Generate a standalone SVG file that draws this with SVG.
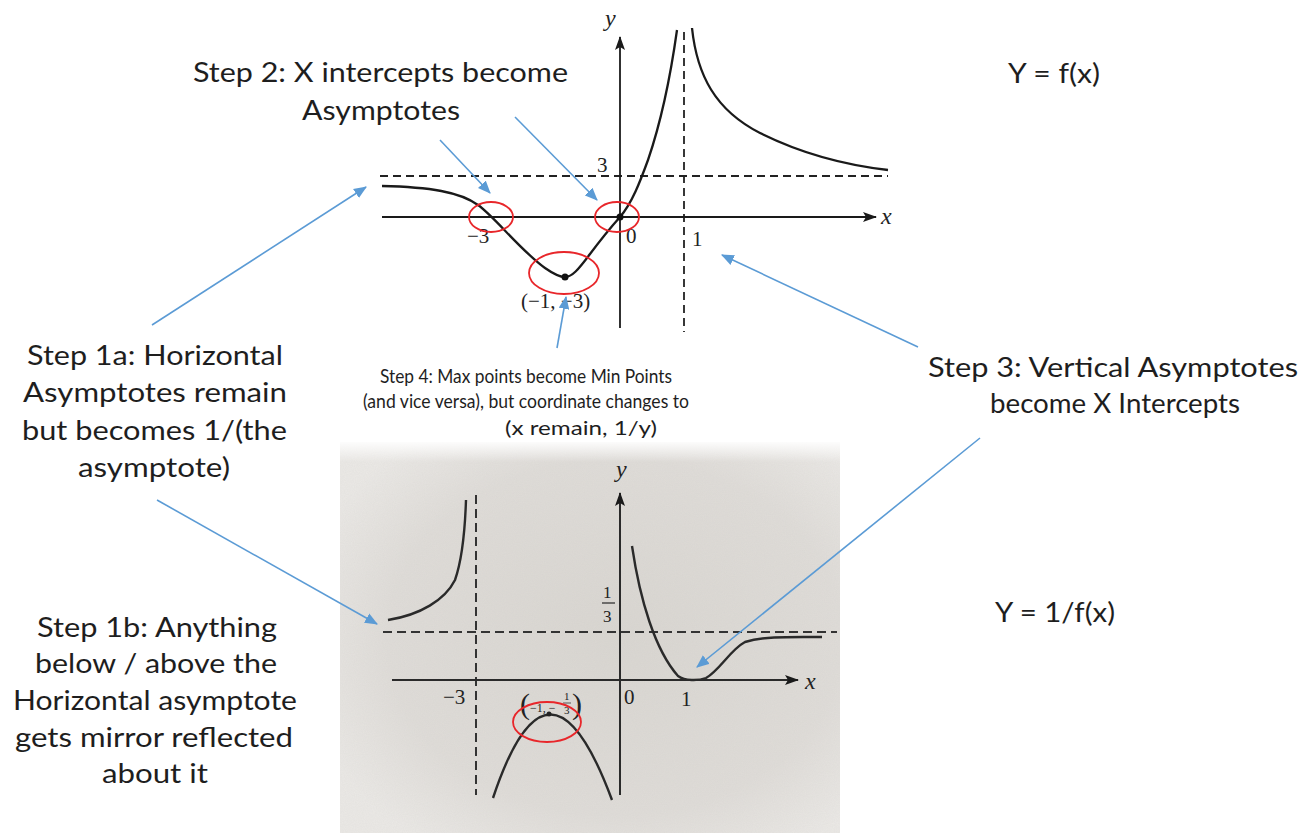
<svg xmlns="http://www.w3.org/2000/svg" width="1314" height="833" viewBox="0 0 1314 833">
<defs>
<style>
.lbl{font-family:Lato,"Open Sans","Noto Sans",sans-serif;font-size:26px;fill:#1e1e1e}
.sm{font-size:19px}
.m{font-family:"Liberation Serif","DejaVu Serif",serif;fill:#222}
.mi{font-family:"Liberation Serif","DejaVu Serif",serif;font-style:italic;fill:#222}
.crv{fill:none;stroke:#1a1a1a;stroke-width:2.3}
.ax{fill:none;stroke:#1a1a1a;stroke-width:1.8}
.dsh{fill:none;stroke:#222;stroke-width:1.8;stroke-dasharray:8 5}
.crv2{fill:none;stroke:#2a2a2a;stroke-width:2.4}
.ax2{fill:none;stroke:#2a2a2a;stroke-width:2}
.dsh2{fill:none;stroke:#333;stroke-width:2;stroke-dasharray:9 5}
.ring{fill:none;stroke:#e8262a;stroke-width:1.8}
.blue{fill:none;stroke:#5b9bd5;stroke-width:1.6;marker-end:url(#ah)}
</style>
<marker id="ah" viewBox="0 0 12 10" refX="11" refY="5" markerWidth="13" markerHeight="11" markerUnits="userSpaceOnUse" orient="auto">
<path d="M0,0 L12,5 L0,10 Z" fill="#5b9bd5"/>
</marker>
<marker id="kh" viewBox="0 0 14 10" refX="13" refY="5" markerWidth="14" markerHeight="10" markerUnits="userSpaceOnUse" orient="auto">
<path d="M0,0 L14,5 L0,10 L3,5 Z" fill="#1a1a1a"/>
</marker>
<linearGradient id="fadeTop" x1="0" y1="0" x2="0" y2="1">
<stop offset="0" stop-color="#ffffff" stop-opacity="1"/>
<stop offset="1" stop-color="#ffffff" stop-opacity="0"/>
</linearGradient>
<radialGradient id="paper" cx="0.55" cy="0.5" r="0.65">
<stop offset="0" stop-color="#d9d6d1"/>
<stop offset="0.7" stop-color="#dfdcd8"/>
<stop offset="1" stop-color="#ebe9e6"/>
</radialGradient>
<filter id="grain" x="0" y="0" width="1" height="1">
<feTurbulence type="fractalNoise" baseFrequency="0.9" numOctaves="2" seed="3" result="n"/>
<feColorMatrix type="matrix" values="0 0 0 0 0.55  0 0 0 0 0.54  0 0 0 0 0.52  0 0 0 0.18 0" in="n" result="c"/>
<feComposite in="c" in2="SourceGraphic" operator="in"/>
</filter>
</defs>
<rect width="1314" height="833" fill="#ffffff"/>

<!-- photo background for bottom graph -->
<g id="bottom-photo">
<rect x="340" y="442" width="500" height="391" fill="url(#paper)"/>
<rect x="340" y="442" width="500" height="391" fill="#dedbd6" filter="url(#grain)"/>
<rect x="340" y="440" width="500" height="22" fill="url(#fadeTop)"/>
</g>

<!-- top graph: y = f(x) -->
<g id="graph-top">
<line class="dsh" x1="380" y1="176" x2="888" y2="176"/>
<line class="dsh" x1="684" y1="32" x2="684" y2="332"/>
<line class="ax" x1="382" y1="217" x2="876" y2="217" marker-end="url(#kh)"/>
<line class="ax" x1="620" y1="328" x2="620" y2="37" marker-end="url(#kh)"/>
<path class="crv" d="M382,186 C430,187 460,192 478,205 C495,217 520,250 545,268 C555,275 560,277 565,277 C572,277 578,270 590,254 C602,238 612,226 620,217 C632,203 640,182 648,160 C660,125 670,80 677,30"/>
<path class="crv" d="M692,28 C697,75 715,110 760,133 C800,153 845,165 888,170"/>
<circle cx="565" cy="277" r="3.5" fill="#111"/>
<circle cx="620" cy="217" r="3.5" fill="#111"/>
<text class="mi" x="605" y="26" font-size="24">y</text>
<text class="mi" x="881" y="224" font-size="24">x</text>
<text class="m" x="597" y="172" font-size="21">3</text>
<text class="m" x="467" y="243" font-size="21">−3</text>
<text class="m" x="626" y="243" font-size="21">0</text>
<text class="m" x="692" y="246" font-size="21">1</text>
<text class="m" x="521" y="308" font-size="21">(−1, −3)</text>
</g>

<!-- bottom graph: y = 1/f(x) -->
<g id="graph-bottom">
<line class="dsh2" x1="383" y1="632" x2="837" y2="632"/>
<line class="dsh2" x1="476" y1="495" x2="476" y2="795"/>
<line class="ax2" x1="392" y1="680" x2="798" y2="680" marker-end="url(#kh)"/>
<line class="ax2" x1="620" y1="795" x2="620" y2="493" marker-end="url(#kh)"/>
<path class="crv2" d="M388,620 C420,615 445,600 455,580 C462,560 465,530 466,500"/>
<path class="crv2" d="M632,546 C640,600 655,650 678,676 C685,681 698,681 706,678 C720,670 730,650 745,642 C765,636 790,637 822,637"/>
<path class="crv2" d="M493,798 Q549,630 612,800"/>
<circle cx="549" cy="714" r="2.5" fill="#222"/>
<text class="mi" x="616" y="477" font-size="24">y</text>
<text class="mi" x="805" y="689" font-size="24">x</text>
<text class="m" x="603" y="598" font-size="17">1</text>
<line x1="602" y1="603" x2="615" y2="603" stroke="#333" stroke-width="1.3"/>
<text class="m" x="603" y="622" font-size="17">3</text>
<text class="m" x="443" y="704" font-size="21">−3</text>
<text class="m" x="624" y="704" font-size="21">0</text>
<text class="m" x="681" y="706" font-size="21">1</text>
<text class="m" x="520" y="714" font-size="30" fill="#555">(</text>
<text class="m" x="530" y="712" font-size="12" fill="#555">−1, −</text>
<text class="m" x="564" y="700" font-size="11" fill="#555">1</text>
<line x1="563" y1="703" x2="571" y2="703" stroke="#555" stroke-width="1"/>
<text class="m" x="564" y="714" font-size="11" fill="#555">3</text>
<text class="m" x="572" y="714" font-size="30" fill="#555">)</text>
</g>

<!-- red highlight rings -->
<g id="rings">
<ellipse class="ring" cx="491" cy="217" rx="22" ry="15"/>
<ellipse class="ring" cx="617" cy="217" rx="22" ry="15"/>
<ellipse class="ring" cx="564" cy="273" rx="35" ry="21"/>
<ellipse class="ring" cx="547" cy="722" rx="34" ry="20"/>
</g>

<!-- labels -->
<g id="step2">
<text class="lbl" x="193" y="82" textLength="375" lengthAdjust="spacingAndGlyphs">Step 2: X intercepts become</text>
<text class="lbl" x="302" y="120" textLength="158" lengthAdjust="spacingAndGlyphs">Asymptotes</text>
</g>
<g id="eq-top">
<text class="lbl" x="1008" y="83" textLength="92" lengthAdjust="spacingAndGlyphs">Y = f(x)</text>
</g>
<g id="eq-bottom">
<text class="lbl" x="995" y="622" textLength="120" lengthAdjust="spacingAndGlyphs">Y = 1/f(x)</text>
</g>
<g id="step1a">
<text class="lbl" x="27" y="365" textLength="256" lengthAdjust="spacingAndGlyphs">Step 1a: Horizontal</text>
<text class="lbl" x="23" y="402" textLength="264" lengthAdjust="spacingAndGlyphs">Asymptotes remain</text>
<text class="lbl" x="22" y="440" textLength="265" lengthAdjust="spacingAndGlyphs">but becomes 1/(the</text>
<text class="lbl" x="78" y="477" textLength="152" lengthAdjust="spacingAndGlyphs">asymptote)</text>
</g>
<g id="step1b">
<text class="lbl" x="37" y="637" textLength="240" lengthAdjust="spacingAndGlyphs">Step 1b: Anything</text>
<text class="lbl" x="35" y="673" textLength="242" lengthAdjust="spacingAndGlyphs">below / above the</text>
<text class="lbl" x="13" y="710" textLength="284" lengthAdjust="spacingAndGlyphs">Horizontal asymptote</text>
<text class="lbl" x="15" y="747" textLength="278" lengthAdjust="spacingAndGlyphs">gets mirror reflected</text>
<text class="lbl" x="102" y="783" textLength="106" lengthAdjust="spacingAndGlyphs">about it</text>
</g>
<g id="step3">
<text class="lbl" x="928" y="377" textLength="370" lengthAdjust="spacingAndGlyphs">Step 3: Vertical Asymptotes</text>
<text class="lbl" x="990" y="413" textLength="250" lengthAdjust="spacingAndGlyphs">become X Intercepts</text>
</g>
<g id="step4">
<text class="lbl sm" x="380" y="383" textLength="292" lengthAdjust="spacingAndGlyphs">Step 4: Max points become Min Points</text>
<text class="lbl sm" x="363" y="408" textLength="326" lengthAdjust="spacingAndGlyphs">(and vice versa), but coordinate changes to</text>
<text class="lbl sm" x="505" y="435" textLength="152" lengthAdjust="spacingAndGlyphs">(x remain, 1/y)</text>
</g>

<!-- connectors -->
<g id="connectors">
<line class="blue" x1="440" y1="140" x2="490" y2="193"/>
<line class="blue" x1="515" y1="117" x2="597" y2="200"/>
<line class="blue" x1="152" y1="325" x2="366" y2="187"/>
<line class="blue" x1="157" y1="500" x2="377" y2="624"/>
<line class="blue" x1="918" y1="347" x2="722" y2="255"/>
<line class="blue" x1="980" y1="438" x2="697" y2="667"/>
<line class="blue" x1="557" y1="348" x2="566" y2="297"/>
</g>
</svg>
